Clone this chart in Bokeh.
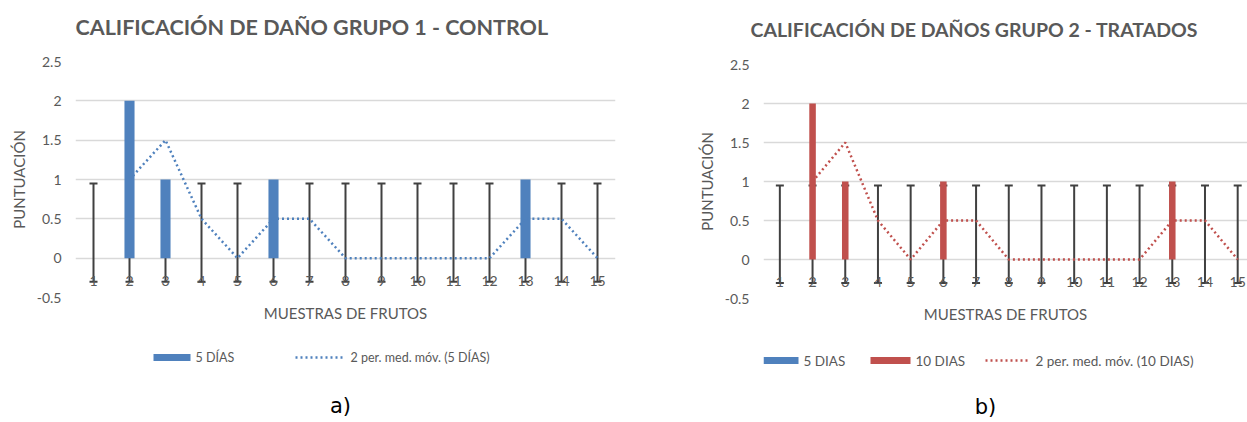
from bokeh.plotting import figure
from bokeh.models import (Whisker, TeeHead, ColumnDataSource, Title, FixedTicker, Range1d)
from bokeh.layouts import row, column
from bokeh.embed import file_html
from bokeh.resources import INLINE
from bokeh.core.properties import value

# ---------------- data ----------------
muestras = list(range(1, 16))
muestra_labels = [str(m) for m in muestras]
g1_5dias = [0, 2, 1, 0, 0, 1, 0, 0, 0, 0, 0, 0, 1, 0, 0]
g2_10dias = [0, 2, 1, 0, 0, 1, 0, 0, 0, 0, 0, 0, 1, 0, 0]
err_low = [-0.30] * 15
err_high = [0.95] * 15
y_ticks = [-0.5, 0, 0.5, 1, 1.5, 2, 2.5]
y_tick_labels = ["-0.5", "0", "0.5", "1", "1.5", "2", "2.5"]

title_a = "CALIFICACIÓN DE DAÑO GRUPO 1 - CONTROL"
title_b = "CALIFICACIÓN DE DAÑOS GRUPO 2 - TRATADOS"
legend_a = ["5 DÍAS", "2 per. med. móv. (5 DÍAS)"]
legend_b = ["5 DIAS", "10 DIAS", "2 per. med. móv. (10 DIAS)"]

BLUE = "#4F81BD"
RED = "#C0504D"
GREY_TXT = "#595959"
GRID = "#D9D9D9"
ERR = "#404040"
FONT = "Lato"
LEG_H = 90


def moving_avg(vals):
    xs = muestras[1:]
    ys = [(vals[i - 1] + vals[i]) / 2 for i in range(1, len(vals))]
    return xs, ys


def make_chart(fw, fh, x_end, bl, br, title, tsize, s_title, s_spacer, title_offset,
               bar_vals, bar_color, bar_width):
    p = figure(frame_width=fw, frame_height=fh, x_range=Range1d(0.5, x_end),
               y_range=Range1d(-0.5, 2.5), output_backend="svg", title=None,
               toolbar_location=None, min_border_left=bl, min_border_right=br,
               min_border_top=0, min_border_bottom=30)
    p.outline_line_color = None
    p.xgrid.visible = False
    p.ygrid.ticker = FixedTicker(ticks=y_ticks)
    p.ygrid.grid_line_color = GRID
    p.ygrid.grid_line_width = 1.3

    ya = p.yaxis[0]
    ya.ticker = FixedTicker(ticks=y_ticks)
    ya.major_label_overrides = {t: l for t, l in zip(y_ticks, y_tick_labels)}
    ya.axis_line_color = None
    ya.major_tick_line_color = None
    ya.minor_tick_line_color = None
    ya.major_label_standoff = 8
    ya.major_label_text_font = FONT
    ya.major_label_text_font_size = "14px"
    ya.major_label_text_color = GREY_TXT
    ya.axis_label = "PUNTUACIÓN"
    ya.axis_label_text_font = FONT
    ya.axis_label_text_font_size = "15px"
    ya.axis_label_text_font_style = "normal"
    ya.axis_label_text_color = GREY_TXT
    ya.axis_label_standoff = 6

    xa = p.xaxis[0]
    xa.axis_line_color = None
    xa.major_tick_line_color = None
    xa.minor_tick_line_color = None
    xa.major_label_text_alpha = 0
    xa.major_label_text_font_size = "1px"
    xa.major_label_standoff = 0
    xa.axis_label = "MUESTRAS DE FRUTOS"
    xa.axis_label_text_font = FONT
    xa.axis_label_text_font_size = "15px"
    xa.axis_label_text_font_style = "normal"
    xa.axis_label_text_color = GREY_TXT
    xa.axis_label_standoff = 0

    p.vbar(x=muestras, top=bar_vals, bottom=0, width=bar_width,
           fill_color=bar_color, line_color=None)

    p.text(x=muestras, y=[-0.29] * 15, text=muestra_labels, text_align="center",
           text_baseline="middle", text_font=value(FONT), text_font_size="14px",
           text_color=GREY_TXT)

    mx, my = moving_avg(bar_vals)
    p.line(mx, my, line_color=bar_color, line_width=2.5, line_dash="2 3")

    src = ColumnDataSource(dict(base=muestras, lower=err_low, upper=err_high))
    wk = Whisker(base="base", lower="lower", upper="upper", source=src,
                 line_color=ERR, line_width=2,
                 upper_head=TeeHead(size=8, line_color=ERR, line_width=2),
                 lower_head=TeeHead(size=8, line_color=ERR, line_width=2))
    p.add_layout(wk)

    p.add_layout(Title(text=" ", text_font_size="1px", standoff=s_spacer), "above")
    p.add_layout(Title(text=title, align="left", offset=title_offset,
                       text_font=FONT, text_font_size=tsize, text_font_style="bold",
                       text_color=GREY_TXT, standoff=s_title), "above")
    return p


def legend_fig(fw, bl, br, swatches, line_seg, line_color, labels, label_x, label_y,
               label_size, tag, tag_x, tag_y):
    """Legend strip under a chart; x in pixels from the chart frame's left edge."""
    q = figure(frame_width=fw, frame_height=LEG_H, x_range=Range1d(0, fw),
               y_range=Range1d(0, LEG_H), output_backend="svg", title=None,
               toolbar_location=None, x_axis_type=None, y_axis_type=None,
               min_border_left=bl, min_border_right=br, min_border_top=0,
               min_border_bottom=0)
    q.outline_line_color = None
    q.grid.visible = False
    q.quad(left=[s[0] for s in swatches], right=[s[1] for s in swatches],
           bottom=[label_y - 3.5] * len(swatches), top=[label_y + 3.5] * len(swatches),
           fill_color=[s[2] for s in swatches], line_color=None)
    q.line(x=list(line_seg), y=[label_y, label_y], line_color=line_color,
           line_width=2.5, line_dash="2 3")
    q.text(x=label_x, y=[label_y] * len(labels), text=labels, text_align="left",
           text_baseline="middle", text_font=value(FONT),
           text_font_size=label_size, text_color=GREY_TXT)
    q.text(x=[tag_x], y=[tag_y], text=[tag], text_align="center",
           text_baseline="middle", text_font=value("DejaVu Sans"),
           text_font_size="21px", text_color="black")
    return q


left = make_chart(540, 236, 15.5, 75, 75, title_a, "21.5px", 23, 7, 0,
                  g1_5dias, BLUE, 0.28)
right = make_chart(484, 234, 15.3, 73, 0, title_b, "19.5px", 30, 6, -13,
                   g2_10dias, RED, 0.2)

leg_left = legend_fig(540, 75, 75, [(78, 115, BLUE)], (220, 270), BLUE,
                      legend_a, [120, 275], 60, "12.5px", "a)", 265, 12)
leg_right = legend_fig(484, 73, 0, [(0, 35, BLUE), (107, 147, RED)], (222, 267), RED,
                       legend_b, [40, 152, 272], 58, "13.5px", "b)", 222, 12)

layout = row(column(left, leg_left), column(right, leg_right))
open("out.html", "w").write(file_html(layout, INLINE))
